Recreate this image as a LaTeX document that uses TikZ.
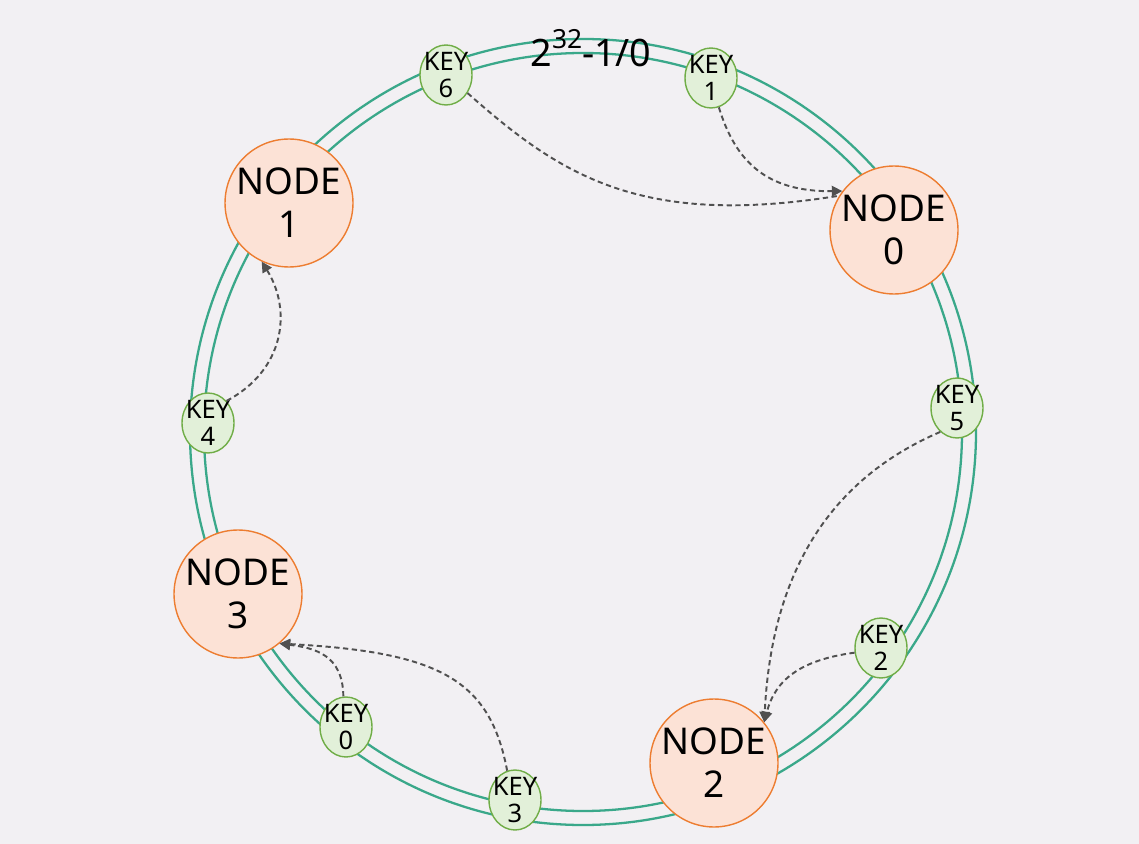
\documentclass[tikz,border=0pt]{standalone}
\usepackage{fontspec}
\setmainfont{Noto Sans}
\usetikzlibrary{
    arrows.meta,
    positioning,
    shapes.geometric
}
\definecolor{ringteal}{RGB}{58,168,138}
\definecolor{nodeorange}{RGB}{237,125,49}
\definecolor{nodepeach}{RGB}{252,226,214}
\definecolor{keygreen}{RGB}{112,173,71}
\definecolor{keylight}{RGB}{226,240,217}
\definecolor{arrowgray}{RGB}{80,80,80}
\definecolor{bggray}{RGB}{242,240,243}
\tikzset{
    % Ring style
    hash ring/.style={
        draw=ringteal,
        line width=1.3pt
    },
    % Server node style
    server node/.style={
        circle,
        draw=nodeorange,
        fill=nodepeach,
        line width=0.8pt,
        minimum size=2.56cm,
        inner sep=0pt,
        align=center,
        font=\fontsize{21}{24.5}\selectfont
    },
    % Key node style
    key node/.style={
        ellipse,
        draw=keygreen,
        fill=keylight,
        line width=0.8pt,
        minimum width=1.04cm,
        minimum height=1.2cm,
        inner xsep=-2.5pt,
        inner ysep=-3pt,
        align=center,
        font=\fontsize{14.5}{15.6}\selectfont
    },
    % Arrow styles
    map arrow/.style={
        -{Triangle[length=6pt,width=6pt]},
        arrowgray,
        line width=1.1pt,
        dash pattern=on 3pt off 2pt
    },
    map line/.style={
        arrowgray,
        line width=1.1pt,
        dash pattern=on 3pt off 2pt
    }
}

\begin{document}
\begin{tikzpicture}[x=0.02cm, y=-0.02cm]
    % Background
    \fill[bggray] (0,0) rectangle (1139,844);
    \useasboundingbox (0,0) rectangle (1139,844);

    % Hash ring
    \draw[hash ring] (583,432) circle[radius=393*0.02cm];
    \draw[hash ring] (583,432) circle[radius=379*0.02cm];
    \node[anchor=base, font=\fontsize{21.5}{24}\selectfont] (top) at (591,67)
        {2\raisebox{10.5pt}{\fontsize{15}{15}\selectfont 32}-1/0};

    % Servers
    \foreach \i/\x/\y in {0/894/230, 1/289/203, 2/714/763, 3/238/594} {
        \node[server node] at (\x,\y) (n\i) {NODE\\\i};
    }

    % Keys
    \foreach \i/\x/\y in {0/346/727, 1/711/78, 2/881/648, 3/515/800, 4/208/423, 5/957/408, 6/446/75} {
        \node[key node] at (\x,\y) (k\i) {KEY\\\i};
    }

    % Key to server mapping
    \draw[map line] (k6.-40) .. controls (560,175) and (640,228) .. (n0.148);
    \draw[map arrow] (k1.-75) .. controls (735,160) and (765,192) .. (n0.143);
    \draw[map arrow] (k5.-125) .. controls (840,475) and (772,560) .. (n2.39);
    \draw[map arrow] (k2.190) .. controls (800,660) and (775,680) .. (n2.39);
    \draw[map arrow] (k4.50) .. controls (285,370) and (292,310) .. (n1.-115);
    \draw[map arrow] (k0.95) .. controls (343,655) and (315,648) .. (n3.-50);
    \draw[map arrow] (k3.105) .. controls (490,680) and (440,652) .. (n3.-50);
\end{tikzpicture}
\end{document}
